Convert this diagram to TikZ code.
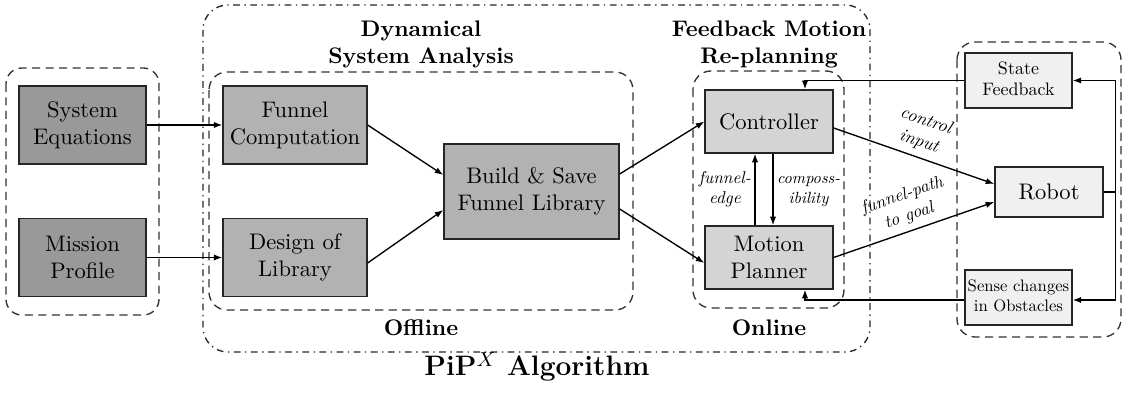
\documentclass[tikz,border=0pt]{standalone}
\usepackage{graphicx}
\usetikzlibrary{arrows.meta,calc}
\newcommand\shrunk[2]{\scalebox{#1}{\begin{tabular}{@{}c@{}}#2\end{tabular}}}
\begin{document}
\begin{tikzpicture}[x=0.444pt,y=0.444pt,
    >={Latex[length=3.8pt,width=2.8pt]},
    box/.style={draw=black!85,semithick,align=center,inner sep=1pt},
    inbox/.style={box,fill=black!40,minimum width=56.4pt,minimum height=34.6pt},
    offbox/.style={box,fill=black!30,minimum width=63.9pt,minimum height=34.6pt},
    onbox/.style={box,fill=black!17,minimum width=56.8pt,minimum height=28pt},
    robbox/.style={box,fill=black!6,minimum width=47.5pt,minimum height=24.4pt},
    frame/.style={draw=black!80,semithick,dash pattern=on 3.6pt off 2.4pt,rounded corners=8pt},
    head/.style={font=\bfseries,align=center},
    lbl/.style={font=\itshape,inner sep=1.5pt},
    wire/.style={semithick,->}]
    \useasboundingbox (0,0) rectangle (1123,-395);

    % frames
    \draw[frame,rounded corners=7pt] (6,-68) rectangle (159,-315);
    \draw[draw=black!85,semithick,dash dot,rounded corners=11pt] (203,-5) rectangle (870,-352);
    \draw[frame] (209,-72) rectangle (633,-310);
    \draw[frame] (693,-71) rectangle (844,-308);
    \draw[frame] (957,-42) rectangle (1121,-337);

    % headings
    \node[head] (dsa) at (421,-44) {Dynamical\\System Analysis};
    \node[head] (fmr) at (769,-44) {Feedback Motion\\Re-planning};
    \node[head] (off) at (421,-328) {Offline};
    \node[head] (on) at (769,-328) {Online};
    \node[font=\fontsize{12.5}{15}\selectfont\bfseries] (pip) at (537,-367) {PiP$^X$ Algorithm};

    % blocks
    \node[inbox] (sys) at (82.5,-125) {System\\Equations};
    \node[inbox] (mis) at (82.5,-257.5) {Mission\\Profile};
    \node[offbox] (fcomp) at (295,-125) {Funnel\\Computation};
    \node[offbox] (dlib) at (295,-257.5) {Design of\\Library};
    \node[offbox,minimum width=77.7pt,minimum height=42.2pt] (build) at (531.5,-191.5) {Build \& Save\\Funnel Library};
    \node[onbox] (ctrl) at (769,-121.5) {Controller};
    \node[onbox] (plan) at (769,-257.5) {Motion\\Planner};
    \node[robbox] (sfb) at (1018.5,-80.5) {\shrunk{0.8}{State\\Feedback}};
    \node[robbox,minimum width=48pt,minimum height=22.2pt] (robot) at (1049,-192) {Robot};
    \node[robbox] (sense) at (1018.5,-297.5) {\shrunk{0.74}{Sense changes\\in Obstacles}};

    % offline part
    \draw[wire] (sys.east) -- (fcomp.west);
    \draw[wire] (mis.east) -- (dlib.west);
    \draw[wire] (fcomp.east) -- ($(build.west)+(0,16.5)$);
    \draw[wire] ($(dlib.east)+(0,-5.5)$) -- ($(build.west)+(0,-18.5)$);
    \draw[wire] ($(build.east)+(0,17.5)$) -- (ctrl.west);
    \draw[wire] ($(build.east)+(0,-17.5)$) -- ($(plan.west)+(0,-5.5)$);

    % online part
    \draw[wire] ($(plan.north)+(-14,0)$) -- node[lbl,left] (fe) {\shrunk{0.76}{funnel-\\edge}} ($(ctrl.south)+(-14,0)$);
    \draw[wire] ($(ctrl.south)+(4,0)$) -- node[lbl,right] (cp) {\shrunk{0.72}{composs-\\ibility}} ($(plan.north)+(4,0)$);
    \draw[wire] ($(ctrl.east)+(0,-6.5)$) -- node[lbl,above,sloped] (ci) {\shrunk{0.8}{control\\input}} ($(robot.west)+(0,8)$);
    \draw[wire] (plan.east) -- node[lbl,above,sloped] (fp) {\shrunk{0.78}{funnel-path\\to goal}} ($(robot.west)+(0,-10)$);

    % feedback loop
    \coordinate (fb) at ($(robot.east)+(12,0)$);
    \draw[thick] (robot.east) -- (fb);
    \draw[wire] (fb) |- (sfb.east);
    \draw[wire] (fb) |- ($(sense.east)+(0,-2.5)$);
    \draw[wire] (sfb.west) -| ($(ctrl.north)+(36,0)$);
    \draw[wire] ($(sense.west)+(0,-2.5)$) -| ($(plan.south)+(36,0)$);
\end{tikzpicture}
\end{document}
